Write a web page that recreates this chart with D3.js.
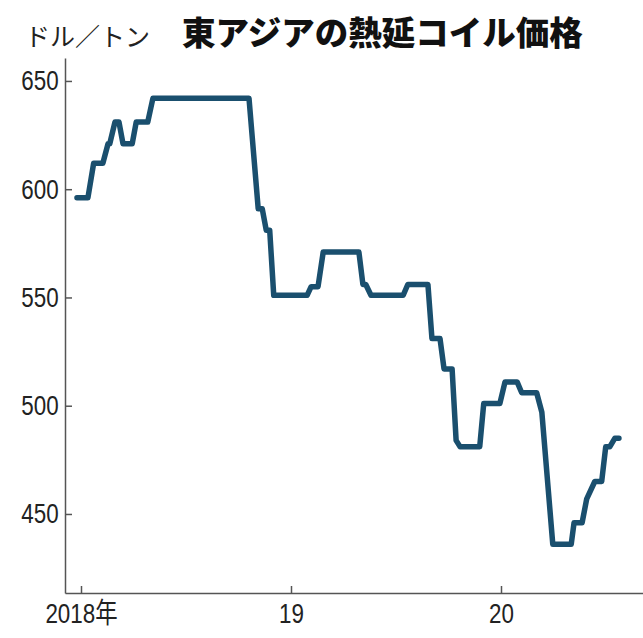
<!DOCTYPE html>
<html>
<head>
<meta charset="utf-8">
<script src="https://cdn.jsdelivr.net/npm/d3@7"></script>
<style>
  body { margin: 0; background: #fff; }
  svg { display: block; }
  .axis path, .axis line { stroke: #555; stroke-width: 1.5; }
  .axis text { font-family: "Liberation Sans", "Noto Sans CJK JP", sans-serif; font-size: 28px; fill: #222; }
</style>
</head>
<body>
<svg id="chart"></svg>
<script>
// 東アジアの熱延コイル価格 (ドル/トン)
var dates = ["2017-12-25","2018-01-13","2018-01-23","2018-02-08","2018-02-17","2018-02-20",
  "2018-03-01","2018-03-08","2018-03-15","2018-03-31","2018-04-07","2018-04-27","2018-05-06",
  "2018-10-20","2018-11-05","2018-11-12","2018-11-19","2018-11-25","2018-12-02",
  "2019-01-29","2019-02-05","2019-02-17","2019-02-26","2019-04-29","2019-05-06","2019-05-11",
  "2019-05-20","2019-07-15","2019-07-23","2019-08-27","2019-09-03","2019-09-17","2019-09-24",
  "2019-10-08","2019-10-15","2019-10-22","2019-11-25","2019-12-02","2019-12-30",
  "2020-01-08","2020-01-29","2020-02-06","2020-03-03","2020-03-12","2020-03-31","2020-05-02",
  "2020-05-07","2020-05-21","2020-05-29","2020-06-12","2020-06-24","2020-07-01","2020-07-08",
  "2020-07-17","2020-07-24"];
var prices = [596,596,612,612,621,621,
  631,631,621,621,631,631,642,
  642,591,591,581,581,551,
  551,555,555,571,571,556,556,
  551,551,556,556,531,531,517,
  517,484,481,481,501,501,
  511,511,506,506,497,436,436,
  446,446,457,465,465,481,481,
  485,485];
var yTicks = [450, 500, 550, 600, 650];
var xTicks = ["2018-01-01", "2019-01-01", "2020-01-01"];
var xTickLabels = ["2018年", "19", "20"];

var width = 643, height = 638;
var parse = d3.timeParse("%Y-%m-%d");

var data = dates.map(function(d, i) { return {date: parse(d), value: prices[i]}; });

var svg = d3.select("#chart")
    .attr("width", width)
    .attr("height", height);

// x: year ticks sit at 81 / 501, axis runs 65..643
var x = d3.scaleTime()
    .domain([parse("2018-01-01"), parse("2020-01-01")])
    .range([81, 501]);
x.domain([x.invert(65), x.invert(643)]).range([65, 643]);

var y = d3.scaleLinear()
    .domain([413.5, 660.6])
    .range([593, 58]);

svg.append("text")
    .attr("x", 25)
    .attr("y", 46)
    .style("font-family", "'Noto Sans CJK JP', sans-serif")
    .style("font-size", "25px")
    .style("fill", "#222")
    .text("ドル／トン");

svg.append("text")
    .attr("x", 182)
    .attr("y", 45)
    .style("font-family", "'Noto Sans CJK JP', sans-serif")
    .style("font-size", "33.5px")
    .style("font-weight", "900")
    .style("fill", "#111")
    .text("東アジアの熱延コイル価格");

// condensed look for tick labels
var narrow = "scale(0.8,1)";

svg.append("g")
    .attr("class", "axis")
    .attr("transform", "translate(65,0)")
    .call(d3.axisLeft(y).tickValues(yTicks).tickSize(-7).tickSizeOuter(0).tickPadding(8))
    .selectAll("text").attr("transform", narrow);

svg.append("g")
    .attr("class", "axis")
    .attr("transform", "translate(0,593)")
    .call(d3.axisBottom(x)
      .tickValues(xTicks.map(parse))
      .tickFormat(function(d, i) { return xTickLabels[i]; })
      .tickSize(-7).tickSizeOuter(0).tickPadding(10))
    .selectAll("text").attr("transform", narrow);

var line = d3.line()
    .x(function(d) { return x(d.date); })
    .y(function(d) { return y(d.value); });

svg.append("path")
    .datum(data)
    .attr("d", line)
    .attr("fill", "none")
    .attr("stroke", "#1a4f6e")
    .attr("stroke-width", 5.5)
    .attr("stroke-linejoin", "round")
    .attr("stroke-linecap", "round");
</script>
</body>
</html>
